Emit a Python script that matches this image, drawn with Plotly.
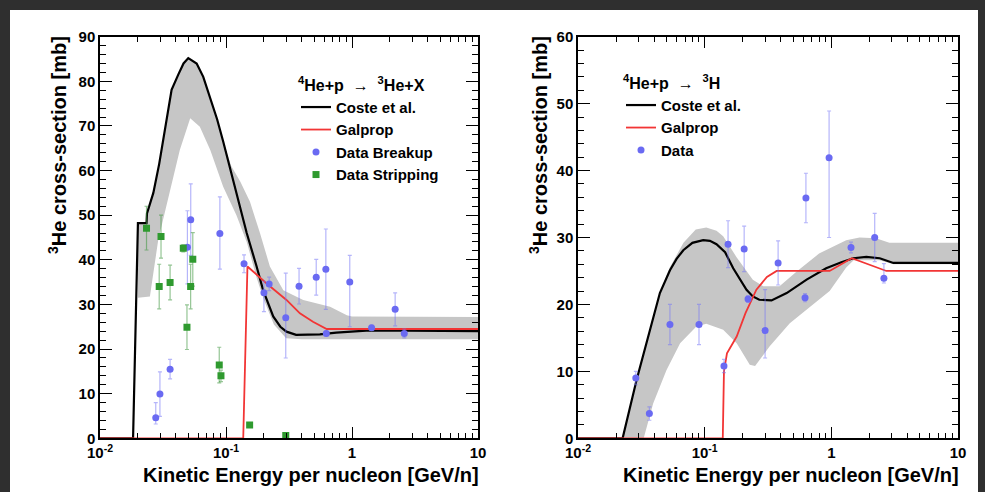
import plotly.graph_objects as go

FONT = "Liberation Sans, Arial, Helvetica, sans-serif"

# ---------------- Left panel: 4He+p -> 3He+X ----------------
coste_L_E = [0.01, 0.0183, 0.0200, 0.0234, 0.0236, 0.0265, 0.0295, 0.0318, 0.0345, 0.037, 0.0418, 0.046,
             0.0502, 0.0585, 0.066, 0.0747, 0.085, 0.095, 0.11, 0.125, 0.146, 0.175, 0.197, 0.237,
             0.27, 0.302, 0.36, 0.556, 0.75, 1.39, 10]
coste_L_v = [0, 0, 48.2, 48.2, 50.4, 55, 61.5, 66.9, 73, 78.1, 81.5, 84,
             85.2, 84, 81, 76.6, 71.5, 66.5, 59.5, 53, 46, 38.5, 33.2, 27.3,
             25.0, 23.9, 23.2, 23.3, 23.7, 24.2, 24.0]

bandL_up_E = [0.02, 0.0234, 0.0236, 0.0265, 0.0295, 0.0318, 0.0345, 0.037, 0.0418, 0.046, 0.0502, 0.0585,
              0.066, 0.0747, 0.085, 0.095, 0.11, 0.13, 0.155, 0.186, 0.223, 0.285, 0.41, 0.67, 0.91, 1.0, 10]
bandL_up_v = [48.2, 48.2, 50.4, 55, 61.5, 66.9, 73, 78.1, 81.5, 84, 85.2, 84,
              81, 76.6, 71.5, 66.5, 61, 57.5, 53, 46, 38.5, 33.2, 31, 29.5, 27.6, 27.3, 27.2]
bandL_lo_E = [0.02, 0.0249, 0.029, 0.036, 0.043, 0.052, 0.062, 0.075, 0.095, 0.121,
              0.146, 0.175, 0.2, 0.24, 0.3, 0.4, 10]
bandL_lo_v = [31.5, 31.8, 44.5, 55.6, 64.6, 71.7, 69.8, 64.6, 56.4, 50,
              44, 36, 31, 25.5, 22.4, 22.2, 22.2]

galprop_L_E = [0.01, 0.137, 0.148, 0.21, 0.302, 0.386, 0.49, 0.63, 10]
galprop_L_v = [0, 0, 38.5, 34.7, 31, 28, 26.1, 24.5, 24.5]

breakup_E = [0.0277, 0.0299, 0.036, 0.0494, 0.0525, 0.0894, 0.139, 0.2, 0.22, 0.298,
             0.38, 0.52, 0.62, 0.625, 0.96, 1.43, 2.2, 2.6]
breakup_v = [4.6, 9.9, 15.5, 42.8, 49.0, 45.9, 39.1, 32.6, 34.6, 27.0,
             34.1, 36.1, 37.9, 23.5, 35.0, 24.8, 28.9, 23.5]
breakup_ep = [3.4, 5, 2.2, 8.2, 8, 8.2, 2, 2.6, 1.5, 10, 4, 4, 9, 0.5, 6, 0.5, 3.7, 1.0]
breakup_em = [1.4, 5, 2.2, 8.2, 8, 8, 2, 4.2, 1.5, 9, 4, 4, 9, 0.5, 10, 0.5, 3.7, 1.0]

strip_E = [0.0234, 0.0295, 0.0305, 0.036, 0.0458, 0.049, 0.0524, 0.0545, 0.0884, 0.0912, 0.154, 0.298]
strip_v = [47.1, 34.0, 45.2, 34.9, 42.6, 24.9, 34.0, 40.1, 16.4, 14.0, 3.0, 0.6]
strip_e = [4.9, 5, 4.8, 3.9, 0.8, 5, 5, 6, 4, 1.3, 0, 0]

# ---------------- Right panel: 4He+p -> 3H ----------------
coste_R_E = [0.01, 0.0225, 0.029, 0.037, 0.0443, 0.0532, 0.06, 0.0678, 0.08, 0.0973, 0.11, 0.124, 0.145,
             0.168, 0.19, 0.214, 0.24, 0.27, 0.337, 0.444, 0.638, 0.91, 1.2, 1.49,
             1.89, 2.41, 3.09, 10]
coste_R_v = [0, 0, 8.7, 16.2, 21.7, 25.1, 26.8, 28.1, 29.2, 29.6, 29.5, 29.0, 27.8,
             25.4, 23.7, 22.2, 21.2, 20.7, 20.6, 21.7, 23.7, 25.4, 26.3, 26.9,
             27.1, 26.9, 26.2, 26.2]

bandR_up_E = [0.0225, 0.029, 0.037, 0.0443, 0.053, 0.068, 0.085, 0.103, 0.124, 0.14,
              0.178, 0.24, 0.29, 0.39, 0.53, 0.8, 1.31, 1.67, 2.25, 2.87, 10]
bandR_up_v = [0, 8.7, 16.2, 21.7, 25.5, 29.2, 31.2, 31.5, 31, 30.2,
              27.1, 23.7, 22.7, 22.7, 24.9, 27.6, 29.6, 30.0, 29.9, 29.2, 29.2]
bandR_lo_E = [0.0225, 0.033, 0.0392, 0.05, 0.064, 0.086, 0.103, 0.14, 0.179, 0.227,
              0.25, 0.325, 0.47, 0.68, 0.97, 1.31, 1.5, 2.41, 3.09, 10]
bandR_lo_v = [0, 0, 5.2, 10.2, 14.2, 16.7, 17.1, 16.2, 14.2, 11,
              10.8, 13.7, 17.2, 19.7, 22, 25.5, 26.6, 26.6, 26.0, 26.0]

galprop_R_E = [0.01, 0.139, 0.142, 0.15, 0.179, 0.21, 0.256, 0.31, 0.37, 0.97, 1.45, 2.72, 10]
galprop_R_v = [0, 0, 10, 12.7, 15.2, 18.7, 22.2, 24.1, 25.0, 25.0, 26.9, 25.0, 25.0]

tdata_E = [0.0286, 0.0366, 0.0532, 0.0902, 0.142, 0.153, 0.205, 0.22, 0.3, 0.38,
           0.62, 0.63, 0.96, 1.43, 2.2, 2.6]
tdata_v = [9.0, 3.7, 17.0, 17.0, 10.8, 29.0, 28.3, 20.8, 16.1, 26.2,
           21.0, 35.9, 41.9, 28.5, 30.0, 23.9]
tdata_ep = [1.0, 1.0, 3.0, 3.0, 1.0, 3.5, 3.4, 0.5, 6.1, 3.3, 0.6, 3.7, 7.0, 0.8, 3.6, 2.2]
tdata_em = [1.0, 1.0, 3.0, 3.0, 1.0, 3.5, 3.4, 0.5, 4.1, 3.3, 0.6, 3.7, 11.9, 0.8, 3.6, 0.7]

x_tickvals = [0.01, 0.1, 1, 10]
x_ticktext = ["10<sup>-2</sup>", "10<sup>-1</sup>", "1", "10"]
x_minorvals = [m * 10.0 ** k for k in (-2, -1, 0) for m in range(2, 10)]

BAND = "#c6c6c6"
BLUE = "#6a6af2"
BLUE_ERR = "rgba(120,120,245,0.55)"
GREEN = "#2f9a2f"
GREEN_ERR = "rgba(60,150,60,0.55)"
RED = "#f23535"

fig = go.Figure()


def band(Eu, vu, El, vl, xa, ya):
    return go.Scatter(x=list(Eu) + list(El)[::-1], y=list(vu) + list(vl)[::-1],
                      fill="toself", fillcolor=BAND, mode="lines", line=dict(width=0),
                      hoverinfo="skip", showlegend=False, xaxis=xa, yaxis=ya)


# left
fig.add_trace(band(bandL_up_E, bandL_up_v, bandL_lo_E, bandL_lo_v, "x", "y"))
fig.add_trace(go.Scatter(x=coste_L_E, y=coste_L_v, mode="lines", name="Coste et al.",
                         line=dict(color="black", width=2.2), xaxis="x", yaxis="y", legend="legend"))
fig.add_trace(go.Scatter(x=galprop_L_E, y=galprop_L_v, mode="lines", name="Galprop",
                         line=dict(color=RED, width=1.8), xaxis="x", yaxis="y", legend="legend"))
fig.add_trace(go.Scatter(x=breakup_E, y=breakup_v, mode="markers", name="Data Breakup",
                         marker=dict(color=BLUE, size=7, symbol="circle"),
                         error_y=dict(type="data", array=breakup_ep, arrayminus=breakup_em,
                                      color=BLUE_ERR, thickness=1.2, width=2),
                         xaxis="x", yaxis="y", legend="legend"))
fig.add_trace(go.Scatter(x=strip_E, y=strip_v, mode="markers", name="Data Stripping",
                         marker=dict(color=GREEN, size=7, symbol="square"),
                         error_y=dict(type="data", array=strip_e, color=GREEN_ERR, thickness=1.2, width=2),
                         xaxis="x", yaxis="y", legend="legend"))

# right
fig.add_trace(band(bandR_up_E, bandR_up_v, bandR_lo_E, bandR_lo_v, "x2", "y2"))
fig.add_trace(go.Scatter(x=coste_R_E, y=coste_R_v, mode="lines", name="Coste et al.",
                         line=dict(color="black", width=2.2), xaxis="x2", yaxis="y2", legend="legend2"))
fig.add_trace(go.Scatter(x=galprop_R_E, y=galprop_R_v, mode="lines", name="Galprop",
                         line=dict(color=RED, width=1.8), xaxis="x2", yaxis="y2", legend="legend2"))
fig.add_trace(go.Scatter(x=tdata_E, y=tdata_v, mode="markers", name="Data",
                         marker=dict(color=BLUE, size=7, symbol="circle"),
                         error_y=dict(type="data", array=tdata_ep, arrayminus=tdata_em,
                                      color=BLUE_ERR, thickness=1.2, width=2),
                         xaxis="x2", yaxis="y2", legend="legend2"))

W, H = 985, 492
ybot = (H - 438.3) / H
ytop = (H - 36.7) / H


def xax(domain, anchor):
    return dict(domain=domain, anchor=anchor, type="log", range=[-2, 1], automargin=False,
                showgrid=False, zeroline=False, showline=True, linecolor="black", linewidth=1.5,
                mirror="allticks", ticks="inside", ticklen=12, tickwidth=1.3, tickcolor="black",
                tickmode="array", tickvals=x_tickvals, ticktext=x_ticktext,
                tickfont=dict(family=FONT, size=15, color="black", weight="bold"),
                minor=dict(ticks="inside", ticklen=6, tickwidth=1.2, tickcolor="black",
                           tickmode="array", tickvals=x_minorvals, showgrid=False))


def yax(domain, anchor, top):
    return dict(domain=domain, anchor=anchor, range=[0, top], dtick=10, automargin=False,
                showgrid=False, zeroline=False, showline=True, linecolor="black", linewidth=1.5,
                mirror="allticks", ticks="inside", ticklen=12, tickwidth=1.3, tickcolor="black",
                tickfont=dict(family=FONT, size=15, color="black", weight="bold"),
                minor=dict(ticks="inside", ticklen=6, tickwidth=1.2, tickcolor="black", dtick=2,
                           showgrid=False))


leg_common = dict(bgcolor="rgba(0,0,0,0)", borderwidth=0, xanchor="left", yanchor="top",
                  font=dict(family=FONT, size=15, color="black", weight="bold"),
                  itemwidth=30, tracegroupgap=0)

title_font = dict(family=FONT, size=20, color="black", weight="bold")

fig.update_layout(
    width=W, height=H, autosize=False, margin=dict(l=0, r=0, t=0, b=0, pad=0, autoexpand=False),
    paper_bgcolor="#2f2f2f", plot_bgcolor="white",
    font=dict(family=FONT, color="black"),
    xaxis=xax([100 / W, 478 / W], "y"),
    yaxis=yax([ybot, ytop], "x", 90),
    xaxis2=xax([578 / W, 958 / W], "y2"),
    yaxis2=yax([ybot, ytop], "x2", 60),
    legend=dict(x=296 / W, y=(H - 70) / H,
                title=dict(text="<sup>4</sup>He+p  \u2192  <sup>3</sup>He+X",
                           font=dict(family=FONT, size=16, color="black", weight="bold")),
                **leg_common),
    legend2=dict(x=621 / W, y=(H - 68) / H,
                 title=dict(text="<sup>4</sup>He+p  \u2192  <sup>3</sup>H",
                            font=dict(family=FONT, size=16, color="black", weight="bold")),
                 **leg_common),
    shapes=[dict(type="rect", xref="paper", yref="paper", x0=10 / W, x1=978 / W, y0=0, y1=(H - 10) / H,
                 fillcolor="white", line=dict(width=0), layer="below")],
    annotations=[
        dict(text="<sup>3</sup>He cross-section [mb]", textangle=-90, xref="paper", yref="paper",
             x=57 / W, y=(H - 34) / H, xanchor="center", yanchor="top", showarrow=False, font=title_font),
        dict(text="<sup>3</sup>He cross-section [mb]", textangle=-90, xref="paper", yref="paper",
             x=538 / W, y=(H - 34) / H, xanchor="center", yanchor="top", showarrow=False, font=title_font),
        dict(text="Kinetic Energy per nucleon [GeV/n]", xref="paper", yref="paper",
             x=481 / W, y=(H - 475) / H, xanchor="right", yanchor="middle", showarrow=False, font=title_font),
        dict(text="Kinetic Energy per nucleon [GeV/n]", xref="paper", yref="paper",
             x=961 / W, y=(H - 475) / H, xanchor="right", yanchor="middle", showarrow=False, font=title_font),
    ],
)

fig.write_html("out.html", config={"displayModeBar": False},
               post_script="document.body.style.margin='0px';document.body.style.overflow='hidden';")
